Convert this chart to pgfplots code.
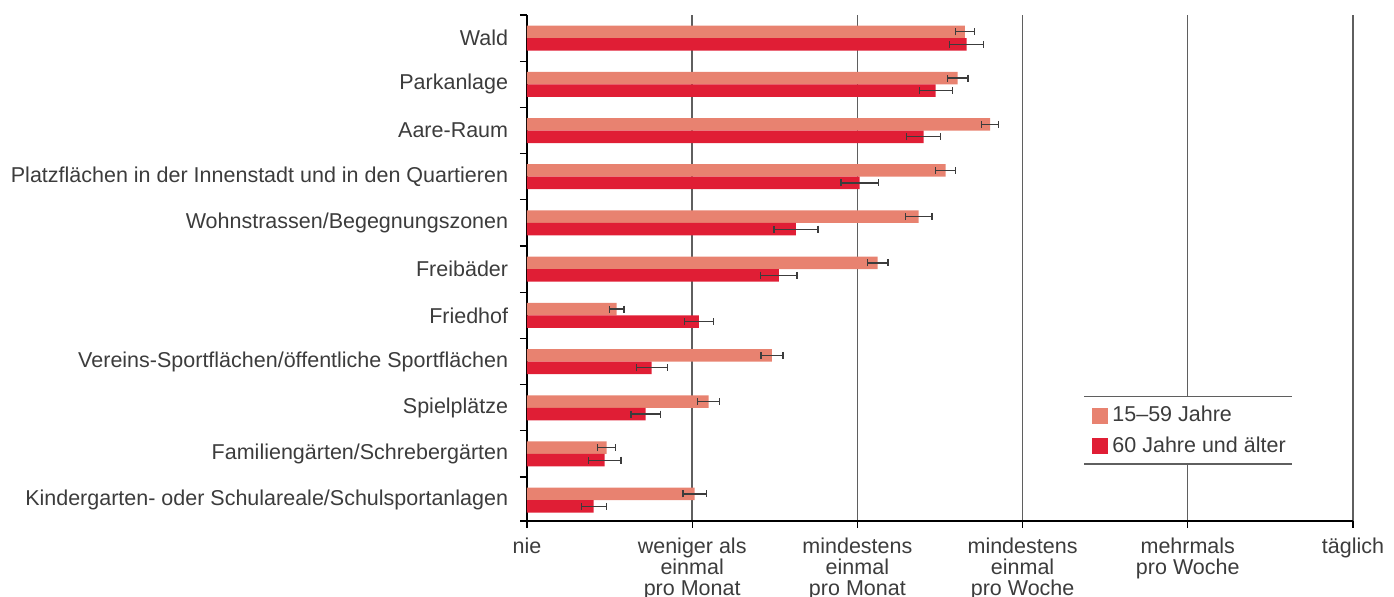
\documentclass[border=0pt]{standalone}
\usepackage{pgfplots}
\pgfplotsset{compat=1.18}
\usepackage{pgfplotstable}
\usepackage{fontspec}
\setmainfont{Liberation Sans}
\definecolor{lightred}{RGB}{232,130,112}
\definecolor{darkred}{RGB}{224,30,53}
\definecolor{txt}{RGB}{60,60,60}
\definecolor{gridc}{RGB}{95,95,95}

\pgfplotstableread{
y x e
10 2.651 0.058
9 2.607 0.062
8 2.803 0.053
7 2.534 0.062
6 2.371 0.080
5 2.123 0.062
4 0.543 0.044
3 1.483 0.067
2 1.100 0.067
1 0.482 0.054
0 1.015 0.070
}\younger

\pgfplotstableread{
y x e
10 2.662 0.103
9 2.474 0.100
8 2.401 0.103
7 2.014 0.114
6 1.628 0.133
5 1.524 0.110
4 1.041 0.089
3 0.755 0.094
2 0.718 0.089
1 0.470 0.099
0 0.404 0.076
}\older

\newcommand{\lblfont}{\fontsize{10.75}{10.5}\selectfont}

\begin{document}
\begin{tikzpicture}
\begin{axis}[
  scale only axis, width=413pt, height=253pt,
  xmin=0, xmax=5, ymin=-0.45, ymax=10.5,
  clip=false,
  axis lines=left, axis line style={-, black, line width=0.75pt},
  xbar, bar width=6.25pt,
  xtick={0,1,2,3,4,5},
  xticklabels={nie, {weniger als\\einmal\\pro Monat}, {mindestens\\einmal\\pro Monat}, {mindestens\\einmal\\pro Woche}, {mehrmals\\pro Woche}, täglich},
  xticklabel style={align=center, font=\lblfont, text=txt, yshift=-1.6pt},
  ytick={0.5,1.5,...,10.5},
  yticklabels={},
  extra y ticks={0,1,2,3,4,5,6,7,8,9,10},
  extra y tick labels={Kindergarten- oder Schulareale/Schulsportanlagen, Familiengärten/Schrebergärten, Spielplätze, Vereins-Sportflächen/öffentliche Sportflächen, Friedhof, Freibäder, Wohnstrassen/Begegnungszonen, Platzflächen in der Innenstadt und in den Quartieren, Aare-Raum, Parkanlage, Wald},
  extra y tick style={tick style={draw=none}},
  yticklabel style={font=\lblfont, text=txt, xshift=-2.4pt},
  tick align=outside,
  major tick length=3.5pt,
  tick style={black, line width=0.6pt},
  xmajorgrids, major grid style={gridc, line width=0.7pt},
  legend image code/.code={\fill[#1] (0pt,-4pt) rectangle (8pt,4pt);},
  legend cell align=left,
  legend style={at={(axis cs:4.02,1.5)}, anchor=center, draw=none, fill=none, font=\lblfont, text=txt, row sep=2pt},
]
\fill[white] (axis cs:3.372,0.784) rectangle (axis cs:4.631,2.247);
\draw[gridc, line width=0.6pt] (axis cs:3.372,2.247) -- (axis cs:4.631,2.247);
\draw[gridc, line width=0.6pt] (axis cs:3.372,0.784) -- (axis cs:4.631,0.784);
\draw[black, line width=0.75pt] (axis cs:-0.04,-0.45) -- (axis cs:0,-0.45);

\addplot[fill=lightred, draw=none, bar shift=3.125pt,
  error bars/.cd, x dir=both, x explicit,
  error bar style={line width=0.65pt, color=txt},
  error mark options={mark size=1.75pt, line width=0.65pt, color=txt, rotate=90}]
  table[x=x, y=y, x error=e]{\younger};
\addlegendentry{15–59 Jahre}
\addplot[fill=darkred, draw=none, bar shift=-3.125pt,
  error bars/.cd, x dir=both, x explicit,
  error bar style={line width=0.65pt, color=txt},
  error mark options={mark size=1.75pt, line width=0.65pt, color=txt, rotate=90}]
  table[x=x, y=y, x error=e]{\older};
\addlegendentry{60 Jahre und älter}
\end{axis}
\pgfresetboundingbox
\path (current axis.south west) ++(-263.5pt,-38pt) rectangle ++(697pt,298.5pt);
\end{tikzpicture}
\end{document}
